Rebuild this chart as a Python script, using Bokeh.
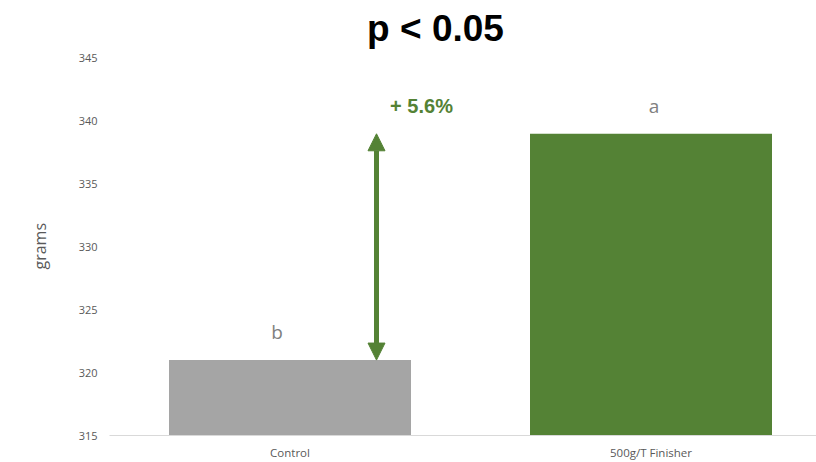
from bokeh.plotting import figure
from bokeh.models import Range1d, FixedTicker, Arrow, NormalHead, Title, ColumnDataSource
from bokeh.core.properties import value
from bokeh.embed import file_html
from bokeh.resources import INLINE

# ---- data ----
categories = ["Control", "500g/T Finisher"]
grams = [321, 339]
letters = ["b", "a"]
bar_colors = ["#A5A5A5", "#548235"]
y_ticks = [315, 320, 325, 330, 335, 340, 345]
title_text = "p < 0.05"
diff_text = "+ 5.6%"
y_label = "grams"

x_pos = [i + 0.5 for i in range(len(categories))]

p = figure(width=816, height=462, output_backend="svg", toolbar_location=None,
           x_range=Range1d(0, 707 / 361), y_range=Range1d(315, 315 + 436 / 12.6),
           min_border_left=109, min_border_right=0, min_border_top=0, min_border_bottom=26)
p.outline_line_color = None
p.background_fill_color = "white"
p.border_fill_color = "white"
p.xgrid.visible = False
p.ygrid.visible = False

src = ColumnDataSource(dict(x=x_pos, top=grams, color=bar_colors, cat=categories))
p.vbar(x="x", top="top", bottom=315, width=242 / 361, fill_color="color", line_color=None, source=src)

# axes
p.xaxis.ticker = FixedTicker(ticks=x_pos)
p.xaxis.major_label_overrides = {x: c for x, c in zip(x_pos, categories)}
p.xaxis.axis_line_color = "#D9D9D9"
p.xaxis.major_tick_line_color = None
p.xaxis.minor_tick_line_color = None
p.xaxis.major_tick_out = 0
p.xaxis.major_tick_in = 0
p.xaxis.major_label_text_color = "#595959"
p.xaxis.major_label_text_font = "Open Sans"
p.xaxis.major_label_text_font_size = "11.5px"
p.xaxis.major_label_standoff = 9

p.yaxis.ticker = FixedTicker(ticks=y_ticks)
p.yaxis.axis_line_color = None
p.yaxis.major_tick_line_color = None
p.yaxis.minor_tick_line_color = None
p.yaxis.major_tick_out = 0
p.yaxis.major_tick_in = 0
p.yaxis.major_label_text_color = "#595959"
p.yaxis.major_label_text_font = "Open Sans"
p.yaxis.major_label_text_font_size = "11px"
p.yaxis.major_label_standoff = 12

# significance letters
letter_x = [x_pos[0] - 13 / 361, x_pos[1] + 3 / 361]
letter_y = [g + 2.2 for g in grams]
p.text(x=letter_x, y=letter_y, text=letters, text_align="center", text_baseline="alphabetic",
       text_color="#808080", text_font=value("Open Sans"), text_font_size="19px")

# arrow between values
arrow_x = (376 - 109) / 361
p.add_layout(Arrow(x_start=arrow_x, y_start=grams[0], x_end=arrow_x, y_end=grams[1],
                   line_color="#548235", line_width=5,
                   start=NormalHead(size=17, fill_color="#548235", line_color="#548235"),
                   end=NormalHead(size=17, fill_color="#548235", line_color="#548235")))

p.text(x=[(421 - 109) / 361], y=[341.2], text=[diff_text], text_align="center",
       text_baseline="alphabetic", text_color="#548235", text_font=value("Liberation Sans"),
       text_font_style="bold", text_font_size="20px")

# title
p.text(x=[(435 - 109) / 361], y=[347.4], text=[title_text], text_align="center",
       text_baseline="alphabetic", text_color="black", text_font=value("Liberation Sans"),
       text_font_style="bold", text_font_size="37px")

# y label as a side title
p.add_layout(Title(text=y_label, align="left", offset=166, vertical_align="top", standoff=46,
                   text_color="#595959", text_font="Open Sans", text_font_size="16px",
                   text_font_style="normal"), "left")

open("out.html", "w").write(file_html(p, INLINE))
